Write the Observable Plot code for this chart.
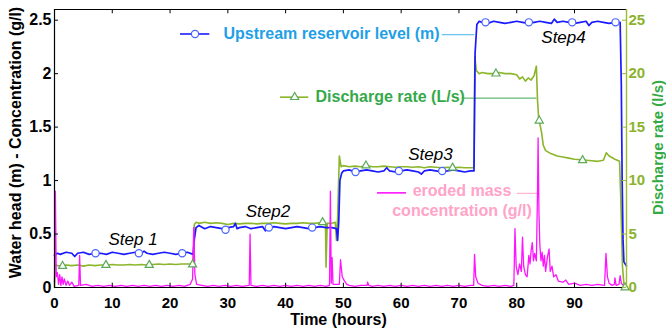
<!DOCTYPE html>
<html><head><meta charset="utf-8">
<script src="https://cdn.jsdelivr.net/npm/d3@7"></script>
<script src="https://cdn.jsdelivr.net/npm/@observablehq/plot@0.6"></script>
<style>html,body{margin:0;padding:0;background:#fff}#chart{width:666px;height:331px}</style>
</head><body><div id="chart"></div>
<script>
// ---------- data (time in hours) ----------
const levelSeries = [ // upstream reservoir level (m)
[0,0.30],[0.5,0.32],[1,0.31],[2,0.33],[3,0.32],[3.5,0.29],[4,0.32],[5,0.33],[6,0.31],[7,0.32],[8,0.32],[9,0.31],[10,0.33],[11,0.32],[12,0.31],[13,0.32],[14,0.33],[15,0.32],[15.5,0.34],[16,0.32],[17,0.31],[18,0.32],[19,0.33],[20,0.32],[21,0.31],[22,0.32],[23,0.33],[24,0.31],
[24.2,0.45],[24.5,0.56],[25,0.58],[26,0.55],[27,0.57],[28,0.56],[29,0.55],[30,0.56],[31,0.57],[31.3,0.60],[31.6,0.55],[32,0.56],[33,0.57],[34,0.55],[35,0.56],[36,0.57],[36.5,0.53],[37,0.56],[38,0.57],[39,0.56],[40,0.55],[41,0.56],[42,0.57],[43,0.56],[44,0.55],[45,0.56],[46,0.57],[47,0.56],[48,0.56],[48.8,0.55],[49.0,0.44],[49.2,0.62],
[49.4,1.0],[49.7,1.07],[50,1.09],[51,1.10],[52,1.08],[53,1.09],[54,1.10],[55,1.09],[56,1.08],[57,1.09],[57.5,1.12],[58,1.09],[59,1.08],[60,1.09],[61,1.10],[62,1.09],[63,1.08],[63.5,1.06],[64,1.09],[65,1.10],[66,1.09],[67,1.08],[68,1.09],[69,1.10],[70,1.09],[71,1.08],[72,1.09],[72.6,1.09],
[72.8,2.2],[73.1,2.46],[73.5,2.49],[74,2.48],[75,2.47],[76,2.49],[77,2.48],[78,2.47],[79,2.48],[80,2.49],[81,2.48],[82,2.47],[83,2.48],[84,2.49],[85,2.48],[86,2.47],[86.5,2.51],[87,2.48],[88,2.49],[89,2.48],[90,2.47],[91,2.48],[92,2.49],[92.5,2.45],[93,2.48],[94,2.49],[95,2.48],[96,2.47],[97,2.48],[97.9,2.48],
[98.1,1.9],[98.25,1.0],[98.4,0.45],[98.55,0.24],[99,0.2]
];
const dischargeSeries = [ // discharge rate (l/s)
[0,0],[0.1,2.1],[1,2.0],[2,2.1],[3,2.05],[4,2.1],[5,2.0],[6,2.1],[7,2.05],[8,2.1],[9,2.1],[10,2.15],[11,2.1],[12,2.1],[13,2.15],[14,2.1],[15,2.15],[16,2.1],[17,2.15],[18,2.2],[19,2.15],[20,2.2],[21,2.15],[22,2.2],[23,2.2],[24.0,2.2],
[24.2,5.9],[24.5,6.1],[25,6.0],[26,6.1],[27,6.0],[28,6.05],[29,6.0],[30,5.9],[31,6.0],[32,5.95],[33,6.0],[34,6.0],[35,5.95],[36,6.0],[37,6.0],[38,6.05],[39,6.0],[40,5.95],[41,6.0],[42,6.0],[43,6.05],[44,6.0],[45,6.0],[46,6.05],[46.9,6.0],[47.0,1.9],[47.2,6.0],[48,6.0],[48.6,6.1],[48.8,4.4],[49.0,6.5],
[49.3,12.3],[49.6,11.3],[50,11.4],[51,11.3],[52,11.35],[53,11.3],[54,11.4],[55,11.3],[56,11.3],[57,11.35],[58,11.3],[59,11.25],[60,11.3],[61,11.3],[62,11.25],[63,11.3],[64,11.2],[65,11.3],[66,11.25],[67,11.2],[68,11.25],[69,11.2],[70,11.25],[71,11.2],[72,11.2],[72.6,11.2],
[72.75,21.6],[73.0,20.3],[73.5,20.0],[74,20.1],[75,20.0],[76,20.0],[77,20.1],[78,20.0],[79,20.0],[80,19.9],[80.5,19.5],[81,19.7],[81.5,19.3],[82,19.6],[82.5,19.4],[83,19.8],[83.4,20.7],
[83.6,17.5],[83.8,15.8],[84.0,15.3],[84.3,14.5],[84.6,13.3],[85,12.8],[86,12.5],[87,12.3],[88,12.2],[89,12.1],[90,12.0],[91,11.95],[92,11.9],[93,11.85],[94,11.8],[95,11.9],[95.5,12.6],[96,12.3],[97,12.0],[97.8,11.8],[98.0,8.5],[98.3,2],[98.6,0]
];
const concentrationSeries = [ // eroded mass concentration (g/l)
[0,0.05],[0.15,0.9],[0.3,0.1],[0.5,0.14],[0.7,0.03],[0.9,0.12],[1.1,0.02],[1.3,0.1],[1.5,0.03],[1.7,0.08],[2.0,0.02],[2.3,0.06],[2.6,0.02],[3.0,0.05],[3.4,0.01],[4.2,0.02],[4.35,0.3],[4.5,0.02],[5.5,0.03],[6.5,0.01],[7.5,0.02],[8.5,0.01],[9.5,0.02],[10.5,0.01],[11.5,0.02],[12.5,0.01],[13.5,0.02],[14.5,0.01],[15.5,0.02],[16.5,0.01],[17.5,0.02],[18.5,0.01],[19.5,0.02],[20.5,0.01],[21.5,0.02],[22.5,0.01],[23.5,0.03],[23.9,0.08],[24.1,0.56],[24.3,0.12],[24.6,0.03],
[25.5,0.02],[26.5,0.01],[27.5,0.02],[28.5,0.01],[29.5,0.02],[30.5,0.01],[31.5,0.02],[32.5,0.01],[33.7,0.02],[33.85,0.5],[34.0,0.02],[35,0.01],[36,0.02],[37,0.01],[38,0.02],[39,0.01],[40,0.02],[41,0.01],[42,0.02],[43,0.01],[44,0.02],[45,0.01],[46,0.02],[47,0.01],[47.6,0.02],[47.75,0.9],[47.9,0.04],[48.05,0.28],[48.2,0.03],[49.3,0.03],[49.5,0.26],[49.8,0.1],[50.2,0.06],[50.6,0.03],
[51,0.02],[52,0.01],[53,0.02],[54.1,0.02],[54.2,0.05],[54.4,0.02],[55,0.01],[56,0.02],[57,0.01],[58,0.02],[59,0.01],[60,0.02],[61,0.01],[62,0.02],[63,0.01],[64,0.02],[65,0.01],[66,0.02],[67,0.01],[68,0.02],[69,0.01],[70,0.02],[71,0.01],[72,0.02],[72.55,0.02],[72.7,0.31],[72.9,0.1],[73.3,0.04],[74,0.02],[75,0.01],[76,0.02],[77,0.01],[78,0.02],[79,0.01],[79.5,0.02],
[79.7,0.55],[79.9,0.2],[80.2,0.12],[80.5,0.22],[80.8,0.15],[81.0,0.47],[81.2,0.2],[81.5,0.12],[81.8,0.1],[82.1,0.3],[82.3,0.22],[82.5,0.35],[82.7,0.42],[82.9,0.25],[83.1,0.32],[83.4,0.25],[83.6,0.9],[83.7,1.4],[83.85,0.7],[84.0,0.4],[84.2,0.25],[84.4,0.33],[84.6,0.2],[84.8,0.3],[85.0,0.15],[85.3,0.28],[85.6,0.36],[85.8,0.15],[86.1,0.2],[86.4,0.1],[86.8,0.12],[87.2,0.06],[88,0.05],[88.5,0.07],[89,0.03],[90,0.04],[91,0.02],[92,0.03],[93,0.02],[94,0.03],
[95.2,0.02],[95.45,0.32],[95.7,0.1],[96,0.04],[96.5,0.02],[96.9,0.03],[97.0,0.09],[97.2,0.02],[97.7,0.03],[97.9,0.11],[98.1,0.04],[98.6,0.01]
];
const levelMarkerTime  = [7.1,14.6,22.1,29.6,37.1,44.6,52.1,59.6,67.1,74.6,82.1,89.6,97.1];
const levelMarkerValue = [0.32,0.32,0.32,0.54,0.56,0.56,1.08,1.09,1.09,2.48,2.48,2.48,2.48];
const dischargeMarkerTime  = [1.4,8.9,16.4,23.9,46.4,53.9,68.9,76.4,83.9,91.4,98.75];
const dischargeMarkerValue = [2.0,2.1,2.1,2.15,6.1,11.4,11.2,20.0,15.6,11.9,0];

const timeTicks = [0,10,20,30,40,50,60,70,80,90];
const headTicks = [0,0.5,1,1.5,2,2.5];
const dischargeTicks = [0,5,10,15,20,25];
const stepLabels = ["Step 1","Step2","Step3","Step4"];
const legendLabels = ["Upstream reservoir level (m)", "Discharge rate (L/s)", "eroded mass", "concentration (g/l)"];
const axisLabels = {x: "Time (hours)", y: "Water head (m) - Concentration (g/l)", y2: "Discharge rate (l/s)"};

// ---------- annotation placement (data units) ----------
const T_MAX = 99, Y_MAX = 2.6, Q_PER_Y = 10;
const stepPos = [[13.6,0.40],[36.95,0.657],[65.07,1.196],[88.1,2.283]];
const legendTextPos = [[29.25,2.324],[45.17,1.738],[70.53,0.855],[70.53,0.668]];
const legendLinePos = [[21.81,26.88,2.371],[39.11,44.01,1.78],[55.9,60.92,0.885]];
const leaderPos = [[67.1,72.75,2.364],[70.56,83.5,1.771],[80.08,83.65,0.881]];
const legendMarkerPos = [[24.32,2.371],[41.57,1.78]];

// ---------- styling ----------
const BLUE = "#1a1aff", CIRCLE = "#4a64ff", OLIVE = "#8bb52a", TRI = "#5aaa5a", MAGENTA = "#ff14ff";
const T_BLUE = "#1fa0e6", T_GREEN = "#35a94a", T_PINK = "#ffa3c8", AX_OLIVE = "#9bbd35", TK_OLIVE = "#8cb32d", LBL_GREEN = "#33aa44";
const FONT = "'Liberation Sans', Arial, sans-serif";

const level = levelSeries.map(([t,v]) => ({t, v}));
const discharge = dischargeSeries.map(([t,q]) => ({t, y: q / Q_PER_Y}));
const conc = concentrationSeries.map(([t,v]) => ({t, v}));
const levelMarks = levelMarkerTime.map((t,i) => ({t, v: levelMarkerValue[i]}));
const dischargeMarks = dischargeMarkerTime.map((t,i) => ({t, y: dischargeMarkerValue[i] / Q_PER_Y}));
const steps = stepLabels.map((s,i) => ({s, t: stepPos[i][0], v: stepPos[i][1]}));
const legendTexts = legendLabels.map((s,i) => ({s, t: legendTextPos[i][0], v: legendTextPos[i][1], c: [T_BLUE, T_GREEN, T_PINK, T_PINK][i]}));
const legendLines = legendLinePos.map(([a,b,v],i) => ({a, b, v, c: [BLUE, OLIVE, MAGENTA][i]}));
const leaders = leaderPos.map(([a,b,v],i) => ({a, b, v, c: ["#45b4ee", "#3caa50", "#ffa3c8"][i]}));
const yTickLen = 0.7, xTickLen = 0.04;

const chart = Plot.plot({
  width: 666, height: 331,
  marginLeft: 54, marginRight: 40, marginTop: 9, marginBottom: 44,
  x: {domain: [0, T_MAX], axis: null},
  y: {domain: [0, Y_MAX], axis: null},
  style: {fontFamily: FONT, background: "white", overflow: "visible"},
  marks: [
    // leader lines (drawn beneath data)
    Plot.ruleY(leaders, {y: "v", x1: "a", x2: "b", stroke: "c", strokeWidth: 1}),
    // data lines
    Plot.line(discharge, {x: "t", y: "y", stroke: OLIVE, strokeWidth: 1.6}),
    Plot.line(level, {x: "t", y: "v", stroke: BLUE, strokeWidth: 1.7}),
    Plot.line(conc, {x: "t", y: "v", stroke: MAGENTA, strokeWidth: 1.3}),
    Plot.dot(levelMarks, {x: "t", y: "v", r: 3.6, stroke: CIRCLE, fill: "white", strokeWidth: 1.2}),
    Plot.dot(dischargeMarks, {x: "t", y: "y", r: 3, symbol: "triangle", stroke: TRI, fill: "white", strokeWidth: 1.2}),

    // frame
    Plot.ruleX([0], {stroke: "black", strokeWidth: 1.2}),
    Plot.ruleY([0], {stroke: "black", strokeWidth: 1.2}),
    Plot.ruleY([Y_MAX], {stroke: "black", strokeWidth: 1}),
    Plot.ruleX([T_MAX], {stroke: AX_OLIVE, strokeWidth: 1.4}),

    // inner ticks
    Plot.ruleY(headTicks, {y: d => d, x1: 0, x2: yTickLen, stroke: "black"}),
    Plot.ruleX(timeTicks.slice(1), {x: d => d, y1: 0, y2: xTickLen, stroke: "black"}),
    Plot.ruleX(timeTicks.slice(1), {x: d => d, y1: Y_MAX, y2: Y_MAX - xTickLen, stroke: "black"}),
    Plot.ruleY(dischargeTicks, {y: d => d / Q_PER_Y, x1: T_MAX - yTickLen, x2: T_MAX, stroke: AX_OLIVE}),

    // tick labels
    Plot.text(headTicks, {y: d => d, text: d => String(d), frameAnchor: "left", textAnchor: "end", dx: -3, fontSize: 16, fontWeight: "bold", fill: "black"}),
    Plot.text(dischargeTicks, {y: d => d / Q_PER_Y, text: d => String(d), frameAnchor: "right", textAnchor: "start", dx: 2, fontSize: 15, fontWeight: "bold", fill: TK_OLIVE}),
    Plot.text(timeTicks, {x: d => d, text: d => String(d), frameAnchor: "bottom", lineAnchor: "top", dy: 10, fontSize: 15, fontWeight: "bold", fill: "black"}),

    // axis titles
    Plot.text([axisLabels.x], {text: d => d, frameAnchor: "bottom", textAnchor: "middle", lineAnchor: "top", dy: 26, dx: -2, fontSize: 16, fontWeight: "bold", fill: "black"}),
    Plot.text([axisLabels.y], {text: d => d, frameAnchor: "left", textAnchor: "middle", rotate: -90, dx: -39, dy: -6, fontSize: 16, fontWeight: "bold", fill: "black"}),
    Plot.text([axisLabels.y2], {text: d => d, frameAnchor: "right", textAnchor: "middle", rotate: -90, dx: 32, dy: -1, fontSize: 15, fontWeight: "bold", fill: LBL_GREEN}),

    // step annotations
    Plot.text(steps, {x: "t", y: "v", text: "s", lineAnchor: "bottom", fontSize: 17, fontStyle: "italic", fill: "black"}),

    // legend
    Plot.ruleY(legendLines, {y: "v", x1: "a", x2: "b", stroke: "c", strokeWidth: 1.6}),
    Plot.dot([legendMarkerPos[0]], {x: d => d[0], y: d => d[1], r: 3.6, stroke: CIRCLE, fill: "white", strokeWidth: 1.2}),
    Plot.dot([legendMarkerPos[1]], {x: d => d[0], y: d => d[1], r: 3, symbol: "triangle", stroke: TRI, fill: "white", strokeWidth: 1.2}),
    Plot.text(legendTexts.slice(0, 2), {x: "t", y: "v", text: "s", textAnchor: "start", lineAnchor: "bottom", fill: "c", fontSize: 16, fontWeight: "bold"}),
    Plot.text(legendTexts.slice(2), {x: "t", y: "v", text: "s", textAnchor: "middle", lineAnchor: "bottom", fill: "c", fontSize: 16, fontWeight: "bold"})
  ]
});
document.getElementById("chart").appendChild(chart);
</script>
</body></html>
